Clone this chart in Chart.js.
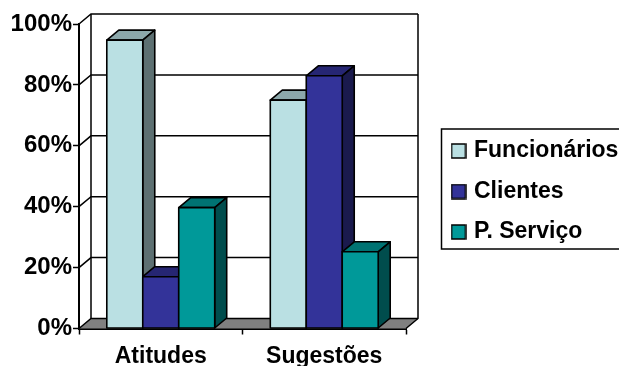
<!DOCTYPE html>
<html>
<head>
<meta charset="utf-8">
<style>
    html, body { margin: 0; padding: 0; background: #ffffff; overflow: hidden; }
    canvas { display: block; }
</style>
<script src="https://cdn.jsdelivr.net/npm/chart.js@4"></script>
</head>
<body>
<canvas id="chart" width="619" height="366"></canvas>
<script>
const categories = ['Atitudes', 'Sugestões'];
const funcionarios = [94.7, 75];
const clientes = [17, 83];
const pServico = [39.7, 25.2];

// Offset of the back wall from the front plane
const depthX = 12;
const depthY = 10;

const lineBlack = '#000000';

// Small outlined square used as a legend marker
function legendSwatch(color) {
    const swatch = document.createElement('canvas');
    swatch.width = 16;
    swatch.height = 16;
    const g = swatch.getContext('2d');
    g.fillStyle = color;
    g.strokeStyle = lineBlack;
    g.lineWidth = 1.5;
    g.fillRect(1, 1, 14, 14);
    g.strokeRect(1, 1, 14, 14);
    return swatch;
}

// Back walls, grid lines and floor, then each series with its top and side faces
const box3d = {
    id: 'box3d',
    afterLayout(chart) {
        // Legend sits in its own framed box to the right of the plot
        const legend = chart.legend;
        legend.left = 437;
        legend.top = 122;
        legend.right = 619;
        legend.bottom = 300;
        legend.width = 182;
        legend.height = 178;
    },
    beforeDatasetsDraw(chart) {
        const { ctx, chartArea: area, scales } = chart;
        const yScale = scales.y;
        const backLeft = area.left + depthX;
        const backRight = area.right + depthX;
        const floorY = yScale.getPixelForValue(0);

        ctx.save();

        // floor
        ctx.fillStyle = '#808080';
        ctx.beginPath();
        ctx.moveTo(area.left, floorY);
        ctx.lineTo(backLeft, floorY - depthY);
        ctx.lineTo(backRight, floorY - depthY);
        ctx.lineTo(area.right, floorY);
        ctx.closePath();
        ctx.fill();

        // grid lines run up the left wall and across the back
        ctx.strokeStyle = lineBlack;
        ctx.lineWidth = 1.5;
        yScale.ticks.forEach(tick => {
            const y = yScale.getPixelForValue(tick.value);
            ctx.beginPath();
            ctx.moveTo(area.left, y);
            ctx.lineTo(backLeft, y - depthY);
            ctx.lineTo(backRight, y - depthY);
            ctx.stroke();
        });

        // wall edges
        ctx.beginPath();
        ctx.moveTo(backLeft, area.top - depthY);
        ctx.lineTo(backLeft, floorY - depthY);
        ctx.moveTo(backRight, area.top - depthY);
        ctx.lineTo(backRight, floorY - depthY);
        ctx.lineTo(area.right, floorY);
        ctx.stroke();

        chart.data.datasets.forEach((dataset, i) => {
            const meta = chart.getDatasetMeta(i);
            meta.data.forEach(bar => {
                const left = bar.x - bar.width / 2;
                const right = bar.x + bar.width / 2;
                ctx.lineWidth = 1.6;
                ctx.strokeStyle = lineBlack;
                ctx.lineJoin = 'round';

                // top face
                ctx.fillStyle = dataset.topColor;
                ctx.beginPath();
                ctx.moveTo(left, bar.y);
                ctx.lineTo(left + depthX, bar.y - depthY);
                ctx.lineTo(right + depthX, bar.y - depthY);
                ctx.lineTo(right, bar.y);
                ctx.closePath();
                ctx.fill();
                ctx.stroke();

                // side face
                ctx.fillStyle = dataset.sideColor;
                ctx.beginPath();
                ctx.moveTo(right, bar.y);
                ctx.lineTo(right + depthX, bar.y - depthY);
                ctx.lineTo(right + depthX, bar.base - depthY);
                ctx.lineTo(right, bar.base);
                ctx.closePath();
                ctx.fill();
                ctx.stroke();

                // front face
                bar.draw(ctx, area);
                ctx.strokeRect(left, bar.y, bar.width, bar.base - bar.y);
            });
        });

        ctx.restore();
    },
    // series are painted above so they overlap from left to right
    beforeDatasetDraw() {
        return false;
    },
    afterDraw(chart) {
        const { ctx } = chart;
        ctx.save();
        ctx.strokeStyle = lineBlack;
        ctx.lineWidth = 1.5;
        ctx.strokeRect(441.5, 129, 190, 120);
        ctx.restore();
    }
};

const ctx = document.getElementById('chart').getContext('2d');

new Chart(ctx, {
    type: 'bar',
    plugins: [box3d],
    data: {
        labels: categories,
        datasets: [
            {
                label: 'Funcionários',
                data: funcionarios,
                backgroundColor: '#BAE0E3',
                topColor: '#8CA8AB',
                sideColor: '#5D7072'
            },
            {
                label: 'Clientes',
                data: clientes,
                backgroundColor: '#333399',
                topColor: '#262673',
                sideColor: '#1A1A4D'
            },
            {
                label: 'P. Serviço',
                data: pServico,
                backgroundColor: '#009999',
                topColor: '#007373',
                sideColor: '#004D4D'
            }
        ]
    },
    options: {
        responsive: false,
        animation: false,
        events: [],
        layout: {
            padding: { top: 24, right: 213, bottom: 0, left: 0 }
        },
        datasets: {
            bar: {
                borderWidth: 0,
                categoryPercentage: 0.66,
                barPercentage: 1
            }
        },
        scales: {
            x: {
                afterFit: scale => { scale.height = 37.5; },
                grid: {
                    drawOnChartArea: false,
                    offset: true,
                    tickLength: 6,
                    tickColor: lineBlack,
                    tickWidth: 1.5
                },
                border: { color: lineBlack, width: 2 },
                ticks: {
                    color: lineBlack,
                    padding: 8,
                    maxRotation: 0,
                    font: { family: '"Liberation Sans"', size: 23, weight: 'bold' }
                }
            },
            y: {
                min: 0,
                max: 100,
                afterFit: scale => { scale.width = 79; },
                grid: {
                    drawOnChartArea: false,
                    tickLength: 6,
                    tickColor: lineBlack,
                    tickWidth: 1.5
                },
                border: { color: lineBlack, width: 2 },
                ticks: {
                    stepSize: 20,
                    color: lineBlack,
                    padding: 1,
                    font: { family: '"Liberation Sans"', size: 24, weight: 'bold' },
                    callback: value => value + '%'
                }
            }
        },
        plugins: {
            title: { display: false },
            tooltip: { enabled: false },
            legend: {
                position: 'chartArea',
                align: 'start',
                labels: {
                    usePointStyle: true,
                    pointStyleWidth: 8,
                    boxHeight: 15,
                    padding: 17.5,
                    color: lineBlack,
                    font: { family: '"Liberation Sans"', size: 23, weight: 'bold' },
                    generateLabels: chart => Chart.defaults.plugins.legend.labels.generateLabels(chart).map(item => {
                        item.pointStyle = legendSwatch(item.fillStyle);
                        return item;
                    })
                }
            }
        }
    }
});
</script>
</body>
</html>
